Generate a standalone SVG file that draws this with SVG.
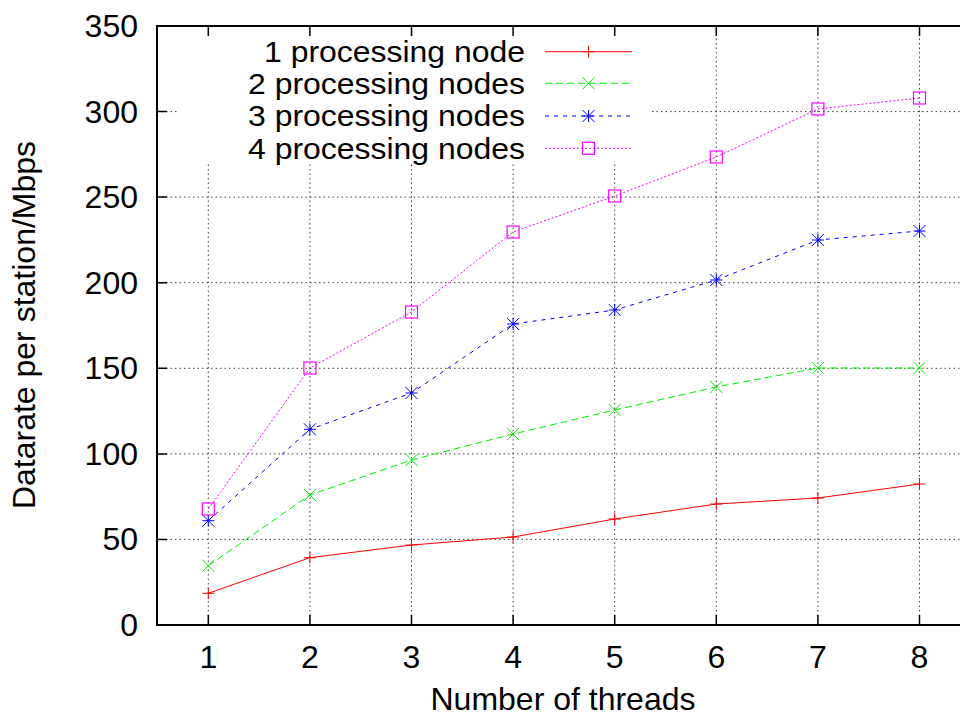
<svg xmlns="http://www.w3.org/2000/svg" xmlns:xlink="http://www.w3.org/1999/xlink" width="960" height="719" viewBox="0 0 960 719">
<style>
text{font-family:"Liberation Sans",Arial,sans-serif;font-size:32px;fill:#000}
.leg{font-size:30px}
.grid{stroke:#000;stroke-width:1;stroke-dasharray:1.5,3;fill:none;opacity:0.75}
.frame{stroke:#000;stroke-width:2;fill:none}
.tick{stroke:#000;stroke-width:1.5;fill:none}
.s1{stroke:#ff0000;stroke-width:1;fill:none}
.s2{stroke:#00f000;stroke-width:1;fill:none;stroke-dasharray:7,4}
.s3{stroke:#0000ff;stroke-width:1;fill:none;stroke-dasharray:4,5}
.s4{stroke:#ff00ff;stroke-width:1;fill:none;stroke-dasharray:2,2}
.m1{stroke:#ff0000;stroke-width:1;fill:none}
.m2{stroke:#00f000;stroke-width:1;fill:none}
.m3{stroke:#0000ff;stroke-width:1;fill:none}
.m4{stroke:#ff00ff;stroke-width:1.2;fill:none}
.yl{text-anchor:end}
.xl{text-anchor:middle}
</style>
<defs>
<path id="plus" d="M-6,0H6M0,-6V6"/>
<path id="cross" d="M-6,-6L6,6M-6,6L6,-6"/>
<path id="star" d="M-6,0H6M0,-6V6M-6,-6L6,6M-6,6L6,-6"/>
<rect id="box" x="-6" y="-6" width="12" height="12"/>
</defs>
<rect width="960" height="719" fill="#fff"/>
<g id="grid">
<path class="grid" d="M157,539.4H960M157,453.9H960M157,368.3H960M157,282.7H960M157,197.1H960M157,111.6H960"/>
<path class="grid" d="M208.3,625V26M309.9,625V26M411.5,625V26M513.1,625V26M614.7,625V26M716.3,625V26M817.9,625V26M919.5,625V26"/>
</g>
<rect id="keybg" x="177" y="27" width="475" height="136" fill="#fff"/>
<g id="axes">
<path class="frame" d="M960,26H157V625H960"/>
<path class="tick" d="M157,539.4h10M157,453.9h10M157,368.3h10M157,282.7h10M157,197.1h10M157,111.6h10"/>
<path class="tick" d="M208.3,625v-10M309.9,625v-10M411.5,625v-10M513.1,625v-10M614.7,625v-10M716.3,625v-10M817.9,625v-10M919.5,625v-10"/>
<path class="tick" d="M208.3,26v10M309.9,26v10M411.5,26v10M513.1,26v10M614.7,26v10M716.3,26v10M817.9,26v10M919.5,26v10"/>
</g>
<g id="ylabels">
<text class="yl" x="138" y="636">0</text>
<text class="yl" x="138" y="550.4">50</text>
<text class="yl" x="138" y="464.9">100</text>
<text class="yl" x="138" y="379.3">150</text>
<text class="yl" x="138" y="293.7">200</text>
<text class="yl" x="138" y="208.1">250</text>
<text class="yl" x="138" y="122.6">300</text>
<text class="yl" x="138" y="37">350</text>
</g>
<g id="xlabels">
<text class="xl" x="208.3" y="668">1</text>
<text class="xl" x="309.9" y="668">2</text>
<text class="xl" x="411.5" y="668">3</text>
<text class="xl" x="513.1" y="668">4</text>
<text class="xl" x="614.7" y="668">5</text>
<text class="xl" x="716.3" y="668">6</text>
<text class="xl" x="817.9" y="668">7</text>
<text class="xl" x="919.5" y="668">8</text>
</g>
<text id="xtitle" class="xl" x="563" y="710">Number of threads</text>
<text id="ytitle" class="xl" transform="translate(35,325) rotate(-90)">Datarate per station/Mbps</text>
<g id="connectors">
<polyline class="s1" points="208.3,593.3 309.9,557.7 411.5,545 513.1,537 614.7,519 716.3,504 817.9,498 919.5,484"/>
<polyline class="s2" points="208.3,565.7 309.9,495 411.5,460 513.1,434 614.7,410 716.3,387 817.9,368 919.5,368"/>
<polyline class="s3" points="208.3,520.7 309.9,429.3 411.5,393 513.1,324 614.7,310 716.3,280 817.9,240 919.5,231"/>
<polyline class="s4" points="208.3,509 309.9,368 411.5,312 513.1,232 614.7,196 716.3,157 817.9,109 919.5,98"/>
</g>
<g id="series1" class="m1">
<use xlink:href="#plus" x="208.3" y="593.3"/><use xlink:href="#plus" x="309.9" y="557.7"/><use xlink:href="#plus" x="411.5" y="545"/><use xlink:href="#plus" x="513.1" y="537"/><use xlink:href="#plus" x="614.7" y="519"/><use xlink:href="#plus" x="716.3" y="504"/><use xlink:href="#plus" x="817.9" y="498"/><use xlink:href="#plus" x="919.5" y="484"/>
</g>
<g id="series2" class="m2">
<use xlink:href="#cross" x="208.3" y="565.7"/><use xlink:href="#cross" x="309.9" y="495"/><use xlink:href="#cross" x="411.5" y="460"/><use xlink:href="#cross" x="513.1" y="434"/><use xlink:href="#cross" x="614.7" y="410"/><use xlink:href="#cross" x="716.3" y="387"/><use xlink:href="#cross" x="817.9" y="368"/><use xlink:href="#cross" x="919.5" y="368"/>
</g>
<g id="series3" class="m3">
<use xlink:href="#star" x="208.3" y="520.7"/><use xlink:href="#star" x="309.9" y="429.3"/><use xlink:href="#star" x="411.5" y="393"/><use xlink:href="#star" x="513.1" y="324"/><use xlink:href="#star" x="614.7" y="310"/><use xlink:href="#star" x="716.3" y="280"/><use xlink:href="#star" x="817.9" y="240"/><use xlink:href="#star" x="919.5" y="231"/>
</g>
<g id="series4" class="m4">
<use xlink:href="#box" x="208.3" y="509"/><use xlink:href="#box" x="309.9" y="368"/><use xlink:href="#box" x="411.5" y="312"/><use xlink:href="#box" x="513.1" y="232"/><use xlink:href="#box" x="614.7" y="196"/><use xlink:href="#box" x="716.3" y="157"/><use xlink:href="#box" x="817.9" y="109"/><use xlink:href="#box" x="919.5" y="98"/>
</g>
<g id="legend">
<text class="yl leg" x="525" y="61.5" textLength="261" lengthAdjust="spacingAndGlyphs">1 processing node</text>
<text class="yl leg" x="525" y="93.5" textLength="277" lengthAdjust="spacingAndGlyphs">2 processing nodes</text>
<text class="yl leg" x="525" y="126" textLength="277" lengthAdjust="spacingAndGlyphs">3 processing nodes</text>
<text class="yl leg" x="525" y="158.5" textLength="277" lengthAdjust="spacingAndGlyphs">4 processing nodes</text>
<path class="s1" d="M545,51.7H632"/>
<path class="s2" d="M545,83.3H632"/>
<path class="s3" d="M545,116H632"/>
<path class="s4" d="M545,148.3H632"/>
<use class="m1" xlink:href="#plus" x="588.5" y="51.7"/>
<use class="m2" xlink:href="#cross" x="588.5" y="83.3"/>
<use class="m3" xlink:href="#star" x="588.5" y="116"/>
<use class="m4" xlink:href="#box" x="588.5" y="148.3"/>
</g>
</svg>
